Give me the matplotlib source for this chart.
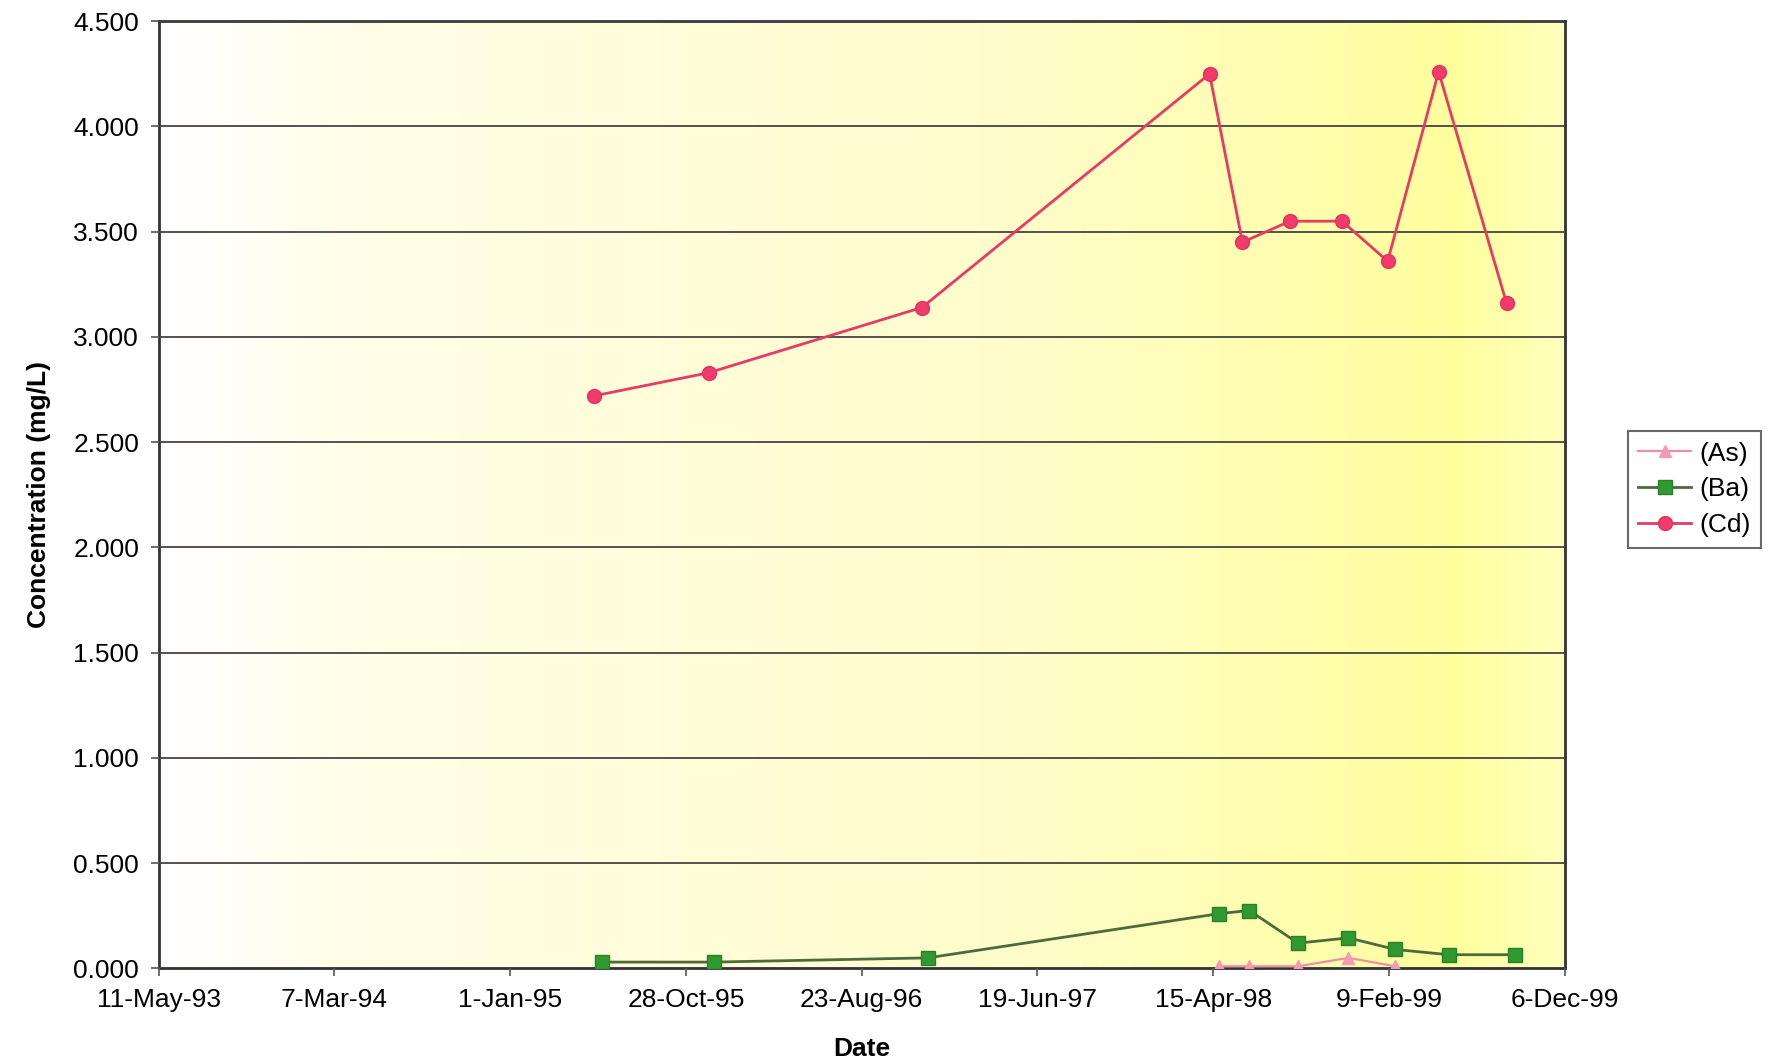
#!/usr/bin/env python3

# plot.py
#
# Concentration of As, Ba and Cd over time (Excel style line chart).
import datetime as dt
import matplotlib
matplotlib.use("Agg")
import matplotlib.pyplot as plt
import numpy as np
from matplotlib.colors import LinearSegmentedColormap

plt.rcParams['font.family'] = ['Liberation Sans', 'DejaVu Sans']

# Sample dates and values
cd_dates = ['1995-05-24', '1995-12-06', '1996-12-04', '1998-04-09', '1998-06-04',
            '1998-08-24', '1998-11-21', '1999-02-07', '1999-05-05', '1999-08-29']
cd_values = [2.72, 2.83, 3.14, 4.25, 3.45, 3.55, 3.55, 3.36, 4.26, 3.16]

ba_dates = ['1995-06-07', '1995-12-15', '1996-12-14', '1998-04-25', '1998-06-16',
            '1998-09-07', '1998-12-02', '1999-02-20', '1999-05-22', '1999-09-13']
ba_values = [0.03, 0.03, 0.05, 0.26, 0.275, 0.12, 0.145, 0.09, 0.065, 0.065]

as_dates = ['1998-04-25', '1998-06-16', '1998-09-07', '1998-12-02', '1999-02-20']
as_values = [0.01, 0.01, 0.01, 0.05, 0.01]

y_ticks = [0.0, 0.5, 1.0, 1.5, 2.0, 2.5, 3.0, 3.5, 4.0, 4.5]


def to_dates(values):
    return [dt.datetime.strptime(v, '%Y-%m-%d') for v in values]


start = dt.datetime(1993, 5, 11)
end = dt.datetime(1999, 12, 6)
x_ticks = [start + dt.timedelta(days=300 * i) for i in range(9)]

fig = plt.figure(figsize=(17.82, 10.63), dpi=100)
ax = fig.add_axes([0.089, 0.089, 0.789, 0.891])

# Excel style gradient fill behind the plot
cmap = LinearSegmentedColormap.from_list('bg', [
    (0.0, (1.0, 1.0, 1.0)),
    (0.15, (1.0, 0.995, 0.90)),
    (0.6, (1.0, 0.99, 0.80)),
    (0.92, (1.0, 1.0, 0.62)),
    (1.0, (1.0, 1.0, 0.74))])
ax.imshow(np.linspace(0, 1, 256).reshape(1, -1), cmap=cmap, aspect='auto',
          extent=[0, 1, 0, 1], transform=ax.transAxes, zorder=0)

ax.plot(to_dates(as_dates), as_values, color='#f28cab', lw=1.6, marker='^',
        ms=9, mfc='#f59ab6', mec='#f59ab6', label='(As)', zorder=3)
ax.plot(to_dates(ba_dates), ba_values, color='#4c6b3c', lw=2.0, marker='s',
        ms=10, mfc='#2f9a2f', mec='#2a7f2a', label='(Ba)', zorder=4)
ax.plot(to_dates(cd_dates), cd_values, color='#e63b62', lw=2.0, marker='o',
        ms=10, mfc='#f03c6c', mec='#e8305e', label='(Cd)', zorder=5)

ax.set_xlim(start, end)
ax.set_ylim(0, 4.5)
ax.set_xticks(x_ticks)
ax.set_xticklabels(['{}-{}'.format(d.day, d.strftime('%b-%y')) for d in x_ticks])
ax.set_yticks(y_ticks)
ax.set_yticklabels(['{:.3f}'.format(v) for v in y_ticks])
ax.tick_params(axis='both', labelsize=19, direction='out', length=6,
               width=1.2, color='#555555', pad=8)

ax.grid(axis='y', color='#444444', lw=1.3)
ax.set_axisbelow(False)
for s in ax.spines.values():
    s.set_color('#333333')
    s.set_linewidth(2)

ax.set_xlabel('Date', fontsize=19, fontweight='bold', labelpad=18)
ax.set_ylabel('Concentration (mg/L)', fontsize=19, fontweight='bold', labelpad=16)

leg = fig.legend(loc='upper left', bbox_to_anchor=(0.906, 0.607), fontsize=19,
                 frameon=True, fancybox=False, edgecolor='#444444',
                 handlelength=2.0, handletextpad=0.3, borderpad=0.4,
                 labelspacing=0.45)
leg.get_frame().set_linewidth(1.5)

fig.savefig('out.png', dpi=100, facecolor='white')
